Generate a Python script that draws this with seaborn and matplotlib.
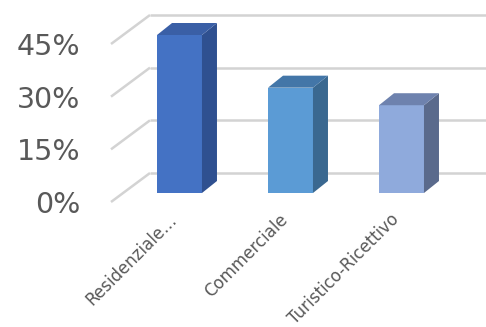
import numpy as np
import pandas as pd
import matplotlib
matplotlib.use("Agg")
import matplotlib.pyplot as plt
import seaborn as sns
from matplotlib.patches import Polygon

categories = ["Residenziale…", "Commerciale", "Turistico-Ricettivo"]
values = [45, 30, 25]
yticks = [0, 15, 30, 45]
ytick_labels = ["0%", "15%", "30%", "45%"]
front_colors = ["#4472C4", "#5B9BD5", "#8FAADC"]
side_colors = ["#2F5090", "#3A6890", "#5A6A8C"]
top_colors = ["#3A5FA6", "#4376A8", "#6E82AE"]

sns.set_theme(style="white")
plt.rcParams["font.family"] = ["DejaVu Sans"]

W, H = 486, 327
fig = plt.figure(figsize=(W / 100, H / 100), dpi=100)
ax = fig.add_axes([111 / W, 125 / H, 336 / W, 158 / H])

df = pd.DataFrame({"cat": categories, "val": values})
sns.barplot(data=df, x="cat", y="val", hue="cat", palette=front_colors,
            width=0.405, legend=False, ax=ax, saturation=1, zorder=3)

xmin, xmax = -0.509, 2.518
ymin, ymax = 0, 45
ax.set_xlim(xmin, xmax)
ax.set_ylim(ymin, ymax)

ppx = 336 / (xmax - xmin)
ppy = 158 / (ymax - ymin)


def off(px, py):
    return px / ppx, py / ppy


# back wall gridlines + diagonals
bdx, bdy = off(39, 29)
grid_col = "#d3d3d3"
for t in yticks:
    ax.plot([xmin, xmin + bdx], [t, t + bdy], color=grid_col, lw=1.8,
            clip_on=False, zorder=0, solid_capstyle="butt")
    ax.plot([xmin + bdx, xmax + bdx], [t + bdy, t + bdy], color=grid_col,
            lw=1.8, clip_on=False, zorder=0, solid_capstyle="butt")

# 3D bars
sx, sy = off(12, 9)
ddx, ddy = off(15, 12)
for i, p in enumerate(ax.patches):
    x0 = p.get_x() + sx
    w = p.get_width()
    h = p.get_height()
    p.set_x(x0)
    p.set_y(sy)
    p.set_linewidth(0)
    p.set_clip_on(False)
    side = Polygon([(x0 + w, sy), (x0 + w + ddx, sy + ddy),
                    (x0 + w + ddx, sy + h + ddy), (x0 + w, sy + h)],
                   closed=True, facecolor=side_colors[i], edgecolor="none",
                   clip_on=False, zorder=3)
    top = Polygon([(x0, sy + h), (x0 + w, sy + h), (x0 + w + ddx, sy + h + ddy),
                   (x0 + ddx, sy + h + ddy)],
                  closed=True, facecolor=top_colors[i], edgecolor="none",
                  clip_on=False, zorder=3)
    ax.add_patch(side)
    ax.add_patch(top)

for s in ax.spines.values():
    s.set_visible(False)
ax.grid(False)
ax.set_xlabel("")
ax.set_ylabel("")
ax.set_yticks(yticks)
ax.set_yticklabels(ytick_labels)
ax.tick_params(axis="y", length=0, pad=22, labelsize=20.5, labelcolor="#595959")
ax.tick_params(axis="x", length=0, pad=6, labelsize=12, labelcolor="#595959")
for lab in ax.get_xticklabels():
    lab.set_rotation(45)
    lab.set_ha("right")
    lab.set_rotation_mode("anchor")

fig.savefig("out.png", dpi=100)
